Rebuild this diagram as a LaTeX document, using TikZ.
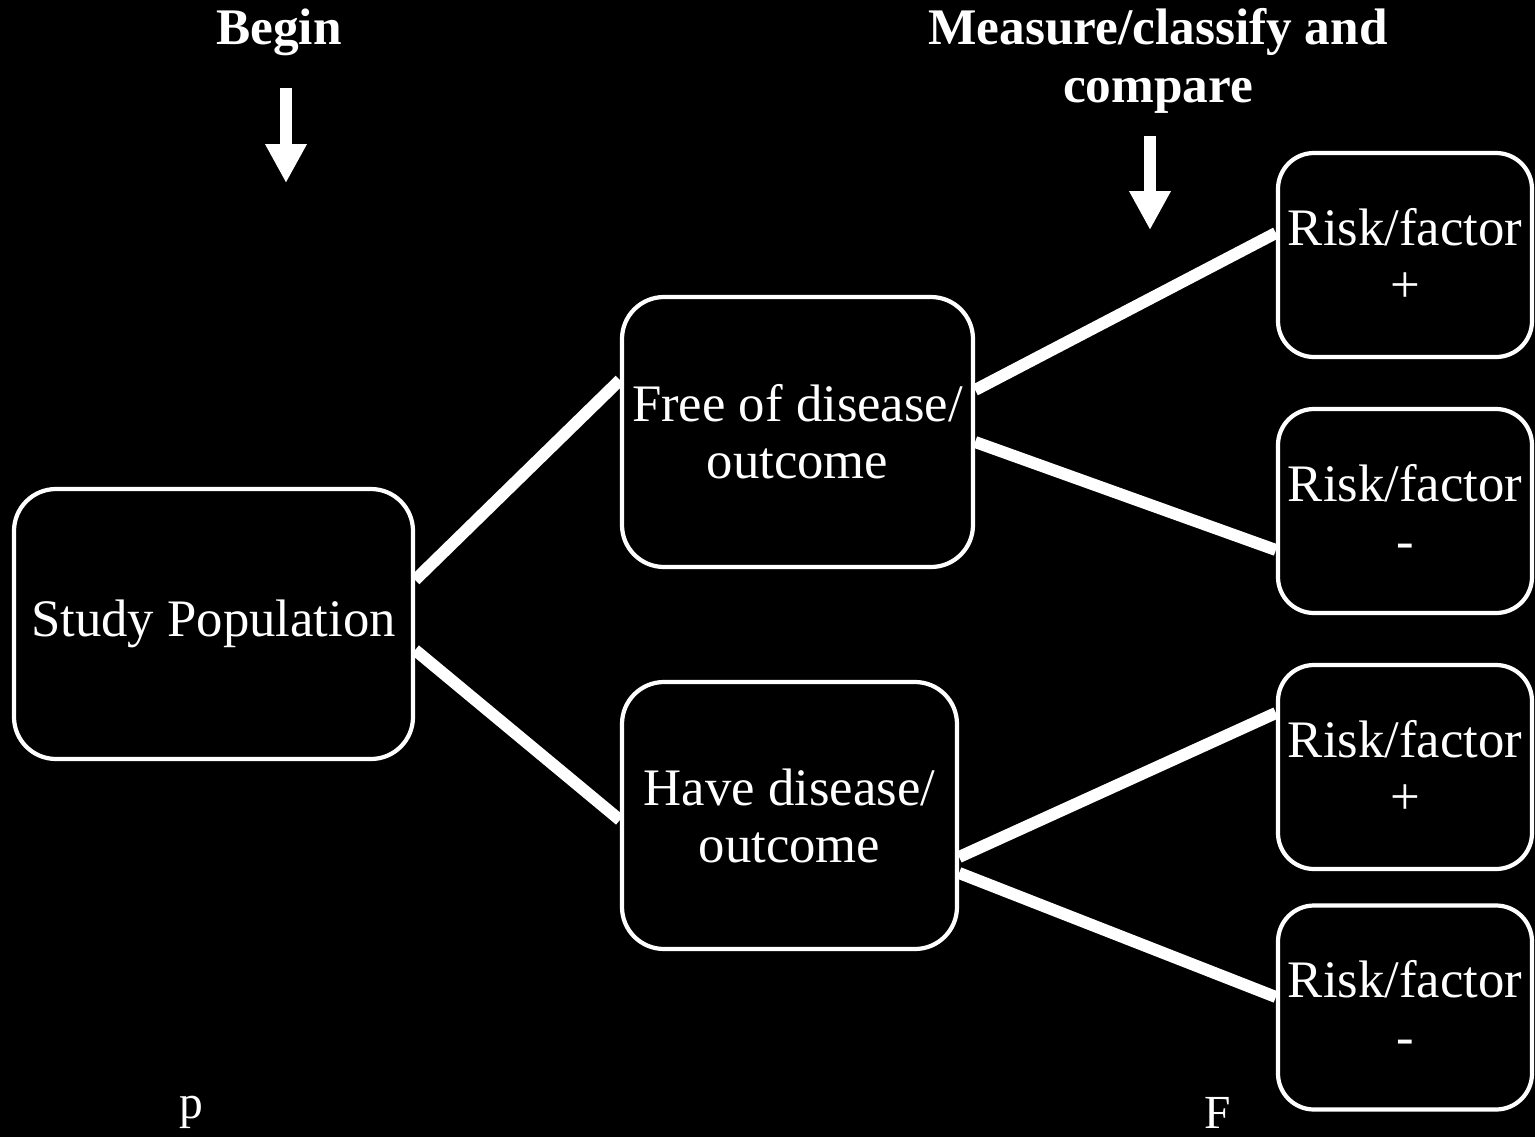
\documentclass[tikz,border=0pt]{standalone}
\usepackage{fontspec}
\setmainfont{Liberation Serif}
\usetikzlibrary{positioning, arrows.meta}

\begin{document}
\begin{tikzpicture}[font=\fontsize{15}{16.2}\selectfont,
    roundbox/.style={draw=white, line width=1.2pt, rounded corners=0.42cm, text=white, align=center, inner sep=1pt},
    riskbox/.style={roundbox, minimum width=2.54cm, minimum height=2.04cm, rounded corners=0.36cm},
    branch/.style={white, line width=3.4pt},
    downarrow/.style={white, line width=0.12cm, -{Triangle[width=0.39cm, length=0.39cm]}},
    heading/.style={text=white, font=\bfseries\fontsize{14.6}{16.5}\selectfont, align=center}]

    % 배경
    \useasboundingbox (0,0) rectangle (15.35,-11.37);
    \fill[black] (0,0) rectangle (15.35,-11.37);

    % --- 제목과 화살표 ---
    \node[heading] (begin) at (2.79,-0.32) {Begin};
    \node[heading] (measure) at (11.58,-0.61) {Measure/classify and\\compare};
    \coordinate (beginTop) at (2.86,-0.88);
    \coordinate (beginTip) at (2.86,-1.83);
    \coordinate (measureTop) at (11.50,-1.36);
    \coordinate (measureTip) at (11.50,-2.30);
    \draw[downarrow] (beginTop) -- (beginTip);
    \draw[downarrow] (measureTop) -- (measureTip);

    % --- 상자 ---
    \node[roundbox, minimum width=3.99cm, minimum height=2.70cm] (study) at (2.135,-6.24) {Study Population};
    \node[roundbox, minimum width=3.51cm, minimum height=2.70cm] (free) at (7.975,-4.32) {Free of disease/\\outcome};
    \node[roundbox, minimum width=3.35cm, minimum height=2.67cm] (have) at (7.895,-8.155) {Have disease/\\outcome};

    \node[riskbox] (riskA) at (14.05,-2.55) {Risk/factor\\+};
    \node[riskbox] (riskB) at (14.05,-5.11) {Risk/factor\\-};
    \node[riskbox] (riskC) at (14.05,-7.67) {Risk/factor\\+};
    \node[riskbox] (riskD) at (14.05,-10.075) {Risk/factor\\-};

    % --- 연결선 ---
    \draw[branch] ([yshift=0.44cm]study.east) -- ([yshift=0.52cm]free.west);
    \draw[branch] ([yshift=-0.26cm]study.east) -- ([yshift=-0.045cm]have.west);
    \draw[branch] ([yshift=0.42cm]free.east) -- ([yshift=0.22cm]riskA.west);
    \draw[branch] ([yshift=-0.10cm]free.east) -- ([yshift=-0.39cm]riskB.west);
    \draw[branch] ([yshift=-0.415cm]have.east) -- ([yshift=0.54cm]riskC.west);
    \draw[branch] ([yshift=-0.575cm]have.east) -- ([yshift=0.105cm]riskD.west);

    % --- 아래 글자 ---
    \node[text=white, anchor=base, inner sep=0pt, font=\fontsize{13.5}{15}\selectfont] (pmark) at (1.91,-11.18) {p};
    \node[text=white, anchor=base, inner sep=0pt, font=\fontsize{13.5}{15}\selectfont] (fmark) at (12.18,-11.28) {F};
\end{tikzpicture}
\end{document}
